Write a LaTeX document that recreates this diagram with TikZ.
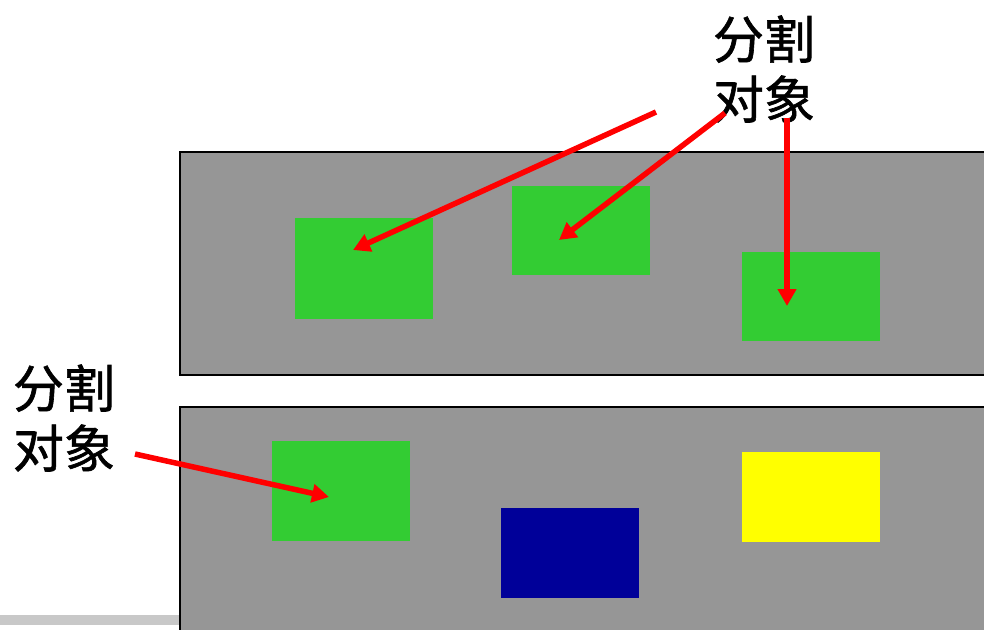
\documentclass[tikz,border=0pt]{standalone}
\usepackage{fontspec}
\newfontfamily\cjk[FakeBold=1.2]{Noto Sans CJK SC}
\usetikzlibrary{arrows.meta}
\definecolor{panelgrey}{RGB}{150,150,150}
\definecolor{objgreen}{RGB}{51,204,51}
\definecolor{objblue}{RGB}{0,0,153}
\definecolor{objyellow}{RGB}{255,255,0}
\definecolor{bargrey}{RGB}{200,200,200}
\tikzset{
  panel/.style={fill=panelgrey,draw=black,line width=1.5pt},
  obj/.style={draw=none,inner sep=0pt,minimum width=138pt},
  redarrow/.style={draw=red,line width=5.5pt,-{Triangle[length=17pt,width=18pt]}},
  label/.style={font=\cjk\fontsize{51}{60}\selectfont,align=center,inner sep=0pt}
}
\begin{document}
\begin{tikzpicture}[x=1pt,y=-1pt]
\useasboundingbox (0,0) rectangle (984,629);
\fill[bargrey] (0,615) rectangle (180,625);
\path[panel] (180,152) rectangle (990,375);
\path[panel] (180,407) rectangle (990,640);
\node[obj,fill=objgreen,minimum height=101pt,anchor=north west] (g1) at (295,218) {};
\node[obj,fill=objgreen,minimum height=89pt,anchor=north west] (g2) at (512,186) {};
\node[obj,fill=objgreen,minimum height=89pt,anchor=north west] (g3) at (742,252) {};
\node[obj,fill=objgreen,minimum height=100pt,anchor=north west] (g4) at (272,441) {};
\node[obj,fill=objblue,minimum height=90pt,anchor=north west] (b1) at (501,508) {};
\node[obj,fill=objyellow,minimum height=90pt,anchor=north west] (y1) at (742,452) {};
\node[label] (t1) at (764,69) {分割\\对象};
\node[label] (t2) at (64,418) {分割\\对象};
\coordinate (s1) at (656,112);
\coordinate (s2) at (725,113);
\coordinate (s3) at (787,118);
\coordinate (s4) at (135,454);
\coordinate (e1) at (353,250);
\coordinate (e2) at (559,240);
\coordinate (e3) at (787,306);
\coordinate (e4) at (329,497);
\draw[redarrow] (s1) -- (e1);
\draw[redarrow] (s2) -- (e2);
\draw[redarrow] (s3) -- (e3);
\draw[redarrow] (s4) -- (e4);
\end{tikzpicture}
\end{document}
